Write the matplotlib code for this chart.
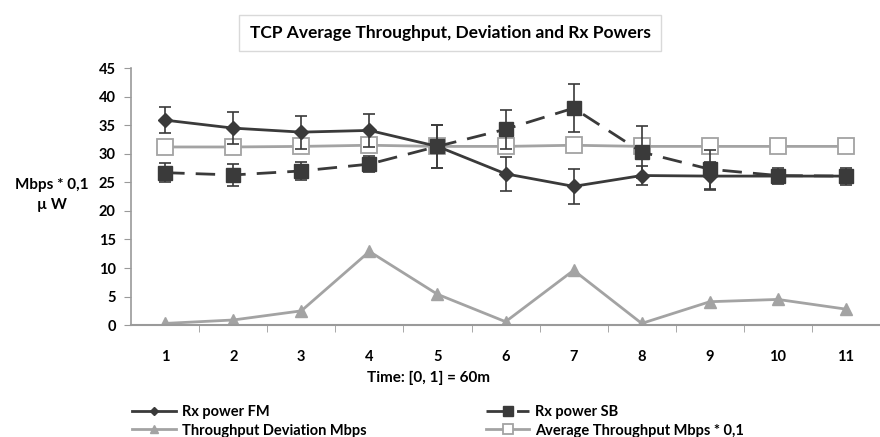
import numpy as np
from matplotlib import pyplot as plt

# datos
tiempos = np.arange(1, 12)
rx_fm = [35.9, 34.5, 33.8, 34.1, 31.3, 26.5, 24.3, 26.2, 26.1, 26.1, 26.1]
err_fm = [2.3, 2.8, 2.9, 2.9, 3.8, 3.0, 3.0, 1.6, 2.5, 1.0, 1.0]
rx_sb = [26.7, 26.3, 27.0, 28.2, 31.3, 34.3, 38.0, 30.3, 27.3, 26.2, 26.1]
err_sb = [1.7, 1.9, 1.5, 1.4, 3.8, 3.4, 4.2, 4.5, 3.4, 1.4, 1.5]
desviacion = [0.3, 0.9, 2.5, 12.9, 5.4, 0.6, 9.6, 0.3, 4.1, 4.5, 2.8]
promedio = [31.2, 31.2, 31.3, 31.5, 31.3, 31.3, 31.5, 31.3, 31.3, 31.3, 31.3]

plt.rcParams['font.family'] = ['Lato', 'DejaVu Sans']
plt.rcParams['font.weight'] = 'bold'

fig = plt.figure(figsize=(8.8, 4.37), dpi=100)
ax = fig.add_axes([0.149, 0.256, 0.851, 0.588])

gris_eje = '#9a9a9a'
oscuro = '#3a3a3a'
gris = '#a3a3a3'

ax.plot(tiempos, desviacion, color=gris, lw=2, marker='^', ms=9,
        mfc=gris, mec=gris, label='Throughput Deviation Mbps', zorder=2)
ax.plot(tiempos, promedio, color=gris, lw=2, marker='s', ms=11,
        mfc='white', mec=gris, mew=1.3, label='Average Throughput Mbps * 0,1', zorder=2)
ax.errorbar(tiempos, rx_sb, yerr=err_sb, fmt='none', ecolor=oscuro,
            elinewidth=1.2, capsize=4, capthick=1.2, zorder=3)
ax.plot(tiempos, rx_sb, color=oscuro, lw=2, dashes=(7, 4), marker='s', ms=10,
        mfc=oscuro, mec=oscuro, label='Rx power SB', zorder=4)
ax.errorbar(tiempos, rx_fm, yerr=err_fm, fmt='none', ecolor=oscuro,
            elinewidth=1.2, capsize=4, capthick=1.2, zorder=3)
ax.plot(tiempos, rx_fm, color=oscuro, lw=2, marker='D', ms=7,
        mfc=oscuro, mec=oscuro, label='Rx power FM', zorder=5)

ax.set_xlim(0.5, 11.5)
ax.set_ylim(0, 45)
ax.set_yticks(np.arange(0, 46, 5))
ax.set_xticks(tiempos)
ax.set_xticks(np.arange(1.5, 11.5, 1), minor=True)
ax.tick_params(axis='x', which='major', length=0, pad=18, labelsize=10.5)
ax.tick_params(axis='x', which='minor', length=5, color=gris_eje, direction='out')
ax.tick_params(axis='y', length=5, color=gris_eje, labelsize=10.5, pad=6)
for lado in ['top', 'right']:
    ax.spines[lado].set_visible(False)
ax.spines['left'].set_color(gris_eje)
ax.spines['bottom'].set_color(gris_eje)
ax.spines['left'].set_linewidth(1.2)
ax.spines['bottom'].set_linewidth(1.5)

fig.text(428 / 880, 1 - 378 / 437, 'Time: [0, 1] = 60m', ha='center',
         va='center', fontsize=11, fontweight='bold')
fig.text(52 / 880, 1 - 195 / 437, 'Mbps * 0,1\n\u00b5 W', ha='center',
         va='center', fontsize=11, fontweight='bold', linespacing=1.6)
fig.text(450 / 880, 1 - 33 / 437, 'TCP Average Throughput, Deviation and Rx Powers',
         ha='center', va='center', fontsize=12.5, fontweight='bold',
         bbox=dict(boxstyle='square,pad=0.6', fc='white', ec='#d9d9d9', lw=1))

h, l = ax.get_legend_handles_labels()
orden = [3, 0, 2, 1]
fig.legend([h[i] for i in orden], [l[i] for i in orden], ncol=2,
           loc='upper left', bbox_to_anchor=(0.135, 1 - 392 / 437),
           frameon=False, fontsize=10.5, handlelength=3.0, markerscale=0.65,
           handletextpad=0.4, columnspacing=8.2, labelspacing=0.3)

plt.savefig('out.png', dpi=100)
